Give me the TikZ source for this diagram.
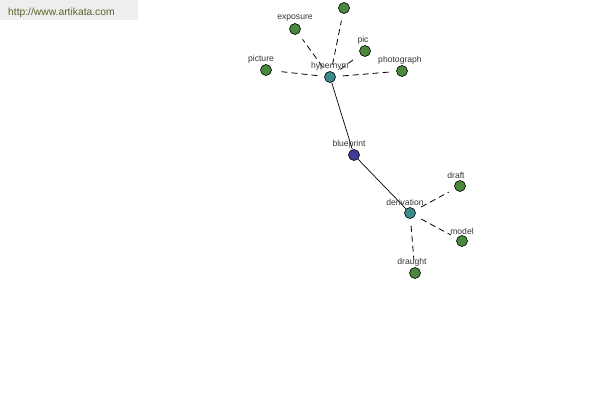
\documentclass[tikz,border=0pt]{standalone}
\usepackage{fontspec}
\setmainfont{Liberation Sans}
\begin{document}
\begin{tikzpicture}[x=1pt,y=-1pt,
  leaf/.style={circle,draw=black,line width=0.6pt,fill=leafgreen,minimum size=11pt,inner sep=0pt},
  mid/.style={circle,draw=black,line width=0.6pt,fill=midteal,minimum size=11pt,inner sep=0pt},
  root/.style={circle,draw=black,line width=0.6pt,fill=rootblue,minimum size=11pt,inner sep=0pt},
  lbl/.style={font=\fontsize{8.6}{10}\selectfont,text=labelgray,inner sep=0pt},
  dashedge/.style={draw=black,line width=0.8pt,dash pattern=on 6pt off 4pt,shorten <=7pt,shorten >=7pt},
  solidedge/.style={draw=black,line width=0.7pt}]
\definecolor{leafgreen}{RGB}{74,136,62}
\definecolor{midteal}{RGB}{58,140,140}
\definecolor{rootblue}{RGB}{62,62,150}
\definecolor{labelgray}{RGB}{55,55,55}
\definecolor{wmgray}{RGB}{238,238,238}
\definecolor{wmtext}{RGB}{85,100,40}
\useasboundingbox (0,0) rectangle (600,400);
\fill[white] (0,0) rectangle (600,400);
\fill[wmgray] (0,0) rectangle (138,20);
\node[anchor=base west,inner sep=0pt,font=\fontsize{10.3}{12}\selectfont,text=wmtext] (wm) at (8,15) {http://www.artikata.com};
% nodes
\node[mid] (hyp) at (330,77) {};
\node[leaf] (top) at (344,8) {};
\node[leaf] (exp) at (295,29) {};
\node[leaf] (pic) at (365,51) {};
\node[leaf] (pict) at (266,70) {};
\node[leaf] (photo) at (402,71) {};
\node[root] (blue) at (354,155) {};
\node[mid] (der) at (410,213) {};
\node[leaf] (draft) at (460,186) {};
\node[leaf] (model) at (462,241) {};
\node[leaf] (draught) at (415,273) {};
% edges
\draw[dashedge] (hyp) -- (top);
\draw[dashedge] (hyp) -- (exp);
\draw[dashedge] (hyp) -- (pic);
\draw[dashedge] (hyp) -- (pict);
\draw[dashedge] (hyp) -- (photo);
\draw[solidedge] (hyp) -- (blue);
\draw[solidedge] (blue) -- (der);
\draw[dashedge] (der) -- (draft);
\draw[dashedge] (der) -- (model);
\draw[dashedge] (der) -- (draught);
% labels
\node[lbl] (lhyp) at (330,66) {hypernym};
\node[lbl] (lexp) at (295,18) {exposure};
\node[lbl] (lpic) at (363,40) {pic};
\node[lbl] (lpict) at (261,59) {picture};
\node[lbl] (lphoto) at (400,60) {photograph};
\node[lbl] (lblue) at (349,144) {blueprint};
\node[lbl] (lder) at (405,202) {derivation};
\node[lbl] (ldraft) at (456,175) {draft};
\node[lbl] (lmodel) at (462,231) {model};
\node[lbl] (ldraught) at (412,262) {draught};
\end{tikzpicture}
\end{document}
